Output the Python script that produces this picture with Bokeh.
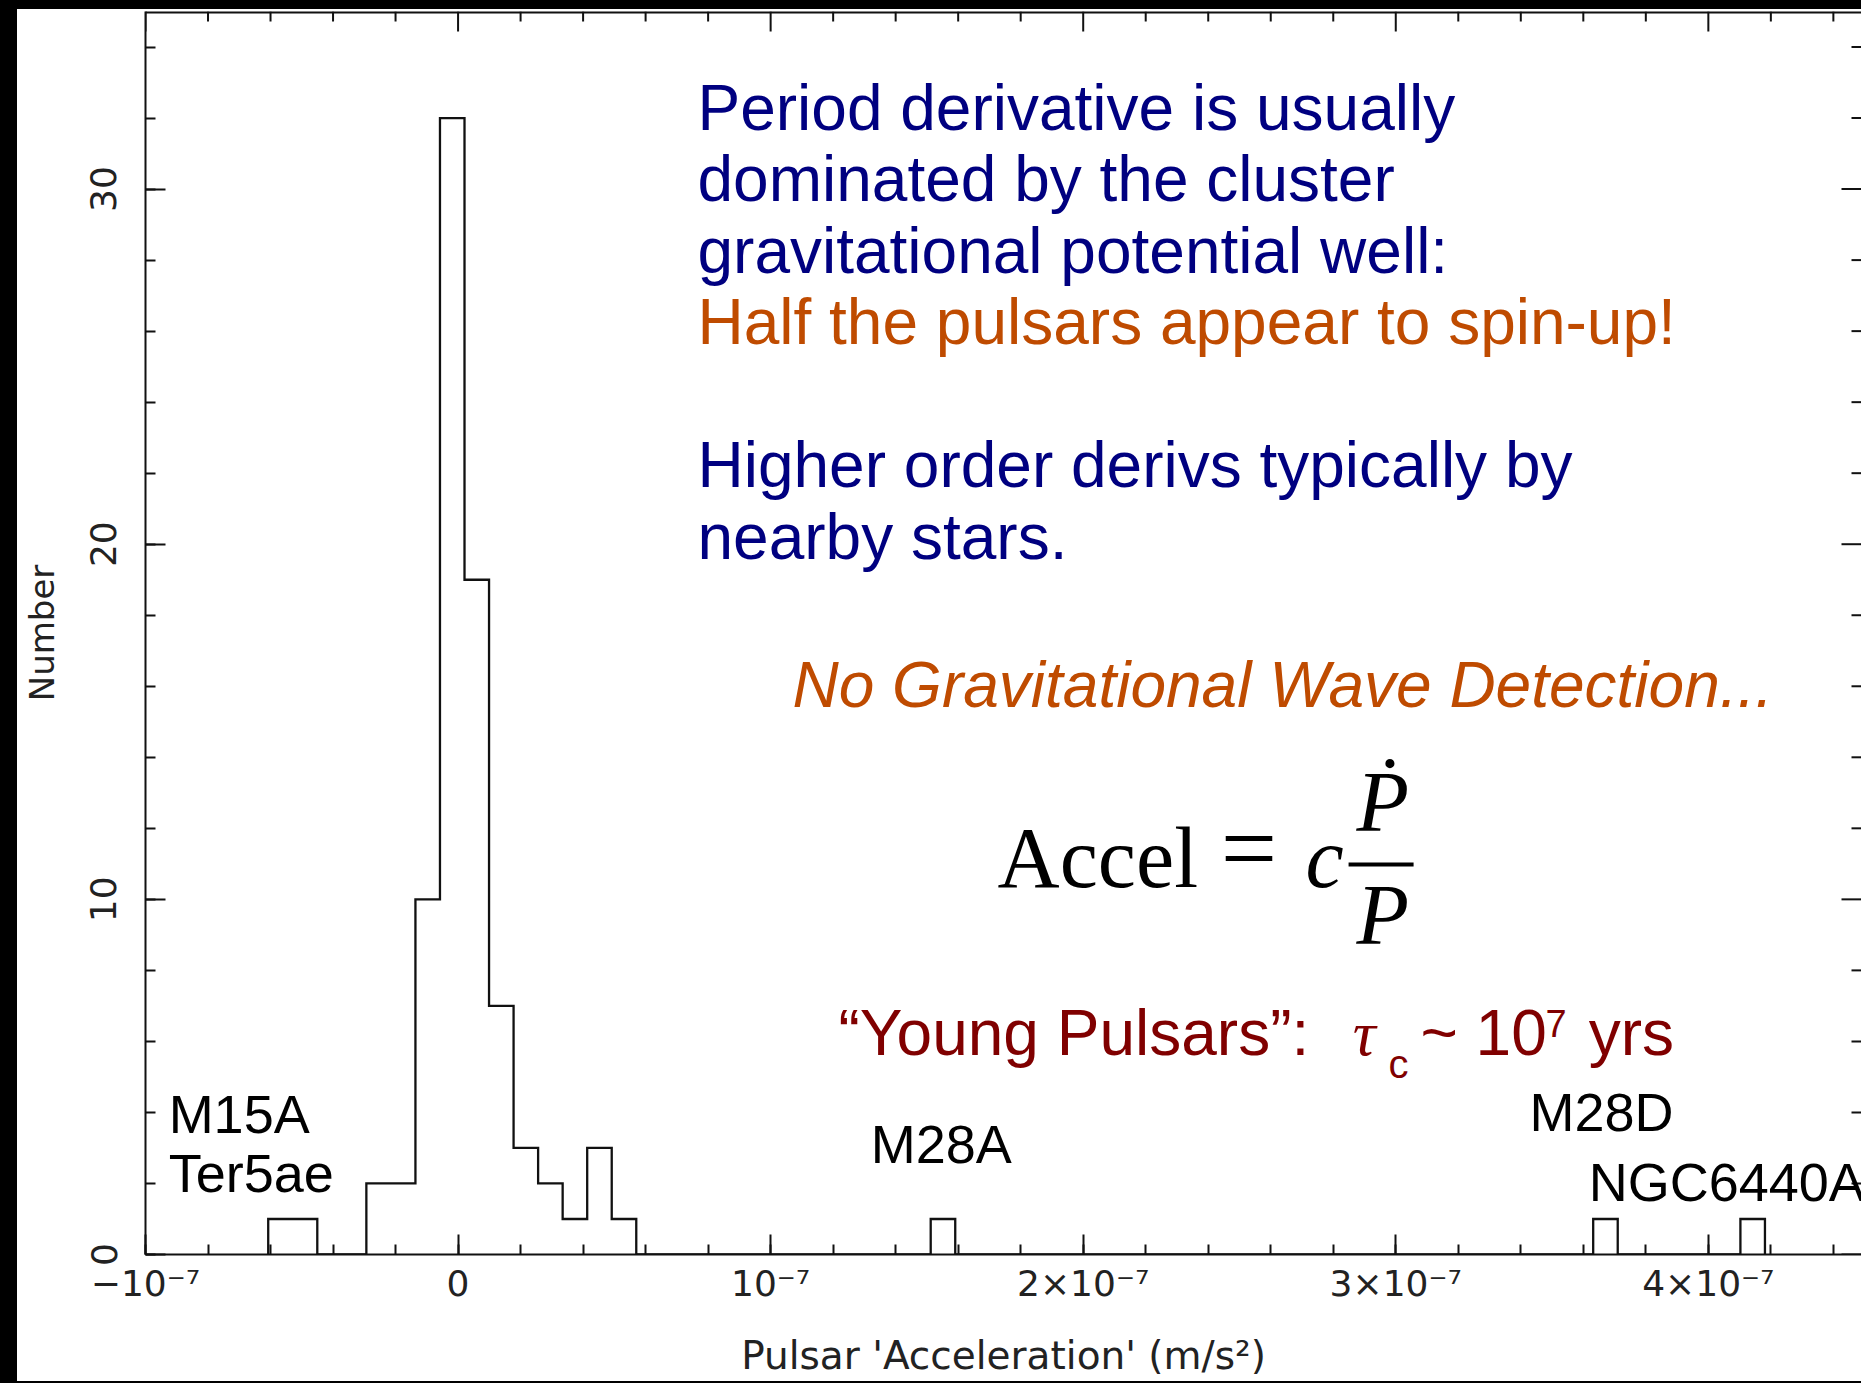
import numpy as np
from bokeh.plotting import figure
from bokeh.models import FixedTicker, Range1d, Spacer
from bokeh.layouts import column, row
from bokeh.embed import file_html
from bokeh.resources import INLINE
from bokeh.core.properties import value

# ---------------------------------------------------------------------------
# Data: histogram of apparent pulsar accelerations (m/s^2), occupied bins only
# ---------------------------------------------------------------------------
bin_width = 7.85e-9
bin_left = [-6.074e-8, -5.289e-8,
            -2.934e-8, -2.149e-8, -1.364e-8, -5.79e-9, 2.06e-9, 9.91e-9,
            1.776e-8, 2.561e-8, 3.346e-8, 4.131e-8, 4.916e-8,
            1.5121e-7, 3.6316e-7, 4.1026e-7]
bin_count = [1, 1,
             2, 2, 10, 32, 19, 7,
             3, 2, 1, 3, 1,
             1, 1, 1]

x_ticks = [-1e-7, 0.0, 1e-7, 2e-7, 3e-7, 4e-7]
x_tick_labels = ["\u221210\u207b\u2077", "0", "10\u207b\u2077", "2\u00d710\u207b\u2077",
                 "3\u00d710\u207b\u2077", "4\u00d710\u207b\u2077"]
y_ticks = [0, 10, 20, 30]
y_tick_labels = ["0", "10", "20", "30"]

pulsar_names = ["M15A", "Ter5ae", "M28A", "M28D", "NGC6440A"]

# ---------------------------------------------------------------------------
# Figure
# ---------------------------------------------------------------------------
INK = "#111111"
NAVY = "#000080"
ORANGE = "#BF4B00"
DARKRED = "#800000"
AXIS_FONT = "DejaVu Sans"

X_LO, X_HI = -1e-7, 4.49e-7
Y_LO, Y_HI = 0, 35
FRAME_W, FRAME_H = 1716, 1243          # plot-area size in pixels
PX_X = (X_HI - X_LO) / FRAME_W         # data units per pixel
PX_Y = (Y_HI - Y_LO) / FRAME_H

p = figure(width=1844, height=1372,
           x_range=Range1d(X_LO, X_HI), y_range=Range1d(Y_LO, Y_HI),
           output_backend="svg", toolbar_location=None,
           min_border_left=128, min_border_right=0,
           min_border_top=2, min_border_bottom=127,
           background_fill_color="white", border_fill_color="white",
           outline_line_color=None)
p.xgrid.visible = False
p.ygrid.visible = False

x_minor = [round(v, 12) for v in np.arange(X_LO, X_HI, 2e-8)]
y_minor = list(range(Y_LO, Y_HI + 1, 2))

MAJOR_LEN, MINOR_LEN = 20, 10


def style_axis(ax, ticks, minor):
    ax.ticker = FixedTicker(ticks=ticks, minor_ticks=minor)
    ax.major_tick_in = MAJOR_LEN
    ax.major_tick_out = 0
    ax.minor_tick_in = MINOR_LEN
    ax.minor_tick_out = 0
    ax.axis_line_width = 2
    ax.major_tick_line_width = 2
    ax.minor_tick_line_width = 2
    ax.axis_line_color = INK
    ax.major_tick_line_color = INK
    ax.minor_tick_line_color = INK
    ax.major_label_text_font = AXIS_FONT
    ax.major_label_text_color = "#222222"
    ax.axis_label_text_font = AXIS_FONT
    ax.axis_label_text_font_style = "normal"
    ax.axis_label_text_color = "#222222"


xb = p.below[0]
style_axis(xb, x_ticks, x_minor)
xb.major_label_overrides = dict(zip(x_ticks, x_tick_labels))
xb.major_label_text_font_size = "36px"
xb.major_label_standoff = 8
xb.axis_label = "Pulsar 'Acceleration' (m/s\u00b2)"
xb.axis_label_text_font_size = "39px"
xb.axis_label_standoff = 26

yl = p.left[0]
style_axis(yl, y_ticks, y_minor)
yl.major_label_overrides = dict(zip(y_ticks, y_tick_labels))
yl.major_label_orientation = "vertical"
yl.major_label_text_font_size = "36px"
yl.major_label_standoff = 29
yl.axis_label = "Number"
yl.axis_label_text_font_size = "34px"
yl.axis_label_standoff = 26

# frame line along the top edge
p.segment(x0=[X_LO], y0=[Y_HI], x1=[X_HI], y1=[Y_HI],
          line_width=4, line_color=INK)

# mirrored tick marks along the top and right edges of the frame
top_maj = list(x_ticks)
top_min = [t for t in x_minor if t not in x_ticks]
p.segment(x0=top_maj, y0=[Y_HI] * len(top_maj), x1=top_maj,
          y1=[Y_HI - MAJOR_LEN * PX_Y] * len(top_maj),
          line_width=2, line_color=INK)
p.segment(x0=top_min, y0=[Y_HI] * len(top_min), x1=top_min,
          y1=[Y_HI - MINOR_LEN * PX_Y] * len(top_min),
          line_width=2, line_color=INK)
right_min = [t for t in y_minor if t not in y_ticks]
p.segment(x0=[X_HI] * len(y_ticks), y0=y_ticks,
          x1=[X_HI - MAJOR_LEN * PX_X] * len(y_ticks), y1=y_ticks,
          line_width=2, line_color=INK)
p.segment(x0=[X_HI] * len(right_min), y0=right_min,
          x1=[X_HI - MINOR_LEN * PX_X] * len(right_min), y1=right_min,
          line_width=2, line_color=INK)

# histogram outline built from the bins
xs, ys = [], []
prev_right = None
for left, n in zip(bin_left, bin_count):
    right = left + bin_width
    if prev_right is None or abs(left - prev_right) > 0.1 * bin_width:
        if prev_right is not None:
            xs.append(prev_right)
            ys.append(0)
        xs.append(left)
        ys.append(0)
    xs += [left, right]
    ys += [n, n]
    prev_right = right
xs.append(prev_right)
ys.append(0)
p.line(xs, ys, line_width=2.3, line_color=INK, line_join="miter")


def put(x, y, txt, size, color, font="Liberation Sans", style="normal",
        align="left"):
    # y is the wanted baseline; nudge to account for the text box offset
    p.text(x=[x], y=[y + 0.33 * size * PX_Y], text=[txt],
           text_font=value(font), text_font_size=value(f"{size}px"),
           text_color=color, text_font_style=style, text_align=align,
           text_baseline="alphabetic")


# pulsar names next to their bins
name_pos = [(-9.26e-8, 3.46), (-9.26e-8, 1.80), (1.320e-7, 2.62),
            (3.428e-7, 3.52), (3.617e-7, 1.55)]
for name, (nx, ny) in zip(pulsar_names, name_pos):
    put(nx, ny, name, 54, "black")

# commentary block
para_x = 7.66e-8
put(para_x, 31.69, "Period derivative is usually", 64, NAVY)
put(para_x, 29.68, "dominated by the cluster", 64, NAVY)
put(para_x, 27.67, "gravitational potential well:", 64, NAVY)
put(para_x, 25.65, "Half the pulsars appear to spin-up!", 64, ORANGE)
put(para_x, 21.63, "Higher order derivs typically by", 64, NAVY)
put(para_x, 19.61, "nearby stars.", 64, NAVY)
put(1.07e-7, 15.44, "No Gravitational Wave Detection...", 64, ORANGE,
    style="italic")

# Accel = c Pdot / P
SERIF = "Liberation Serif"
put(1.726e-7, 10.37, "Accel", 86, "black", font=SERIF)
put(2.530e-7, 10.50, "=", 100, "black", font=SERIF, align="center")
put(2.711e-7, 10.37, "c", 86, "black", font=SERIF, style="italic")
put(2.958e-7, 11.94, "\u1e56", 86, "black", font=SERIF, style="italic",
    align="center")
put(2.958e-7, 8.77, "P", 86, "black", font=SERIF, style="italic",
    align="center")
p.segment(x0=[2.849e-7], y0=[10.98], x1=[3.057e-7], y1=[10.98],
          line_width=4, line_color="black")

# characteristic age of the young pulsars
put(1.217e-7, 5.63, "\u201cYoung Pulsars\u201d:", 64, DARKRED)
put(2.862e-7, 5.63, "\u03c4", 64, DARKRED, font=SERIF, style="italic")
put(2.977e-7, 4.98, "c", 40, DARKRED)
put(3.079e-7, 5.63, "~ 10", 64, DARKRED)
put(3.479e-7, 6.14, "7", 38, DARKRED)
put(3.617e-7, 5.63, "yrs", 64, DARKRED)


def band(w, h):
    return Spacer(width=w, height=h, margin=0,
                  styles={"background-color": "black"})


page = column(band(1861, 9), row(band(17, 1372), p), band(1861, 2))

open("out.html", "w").write(file_html(page, INLINE))
